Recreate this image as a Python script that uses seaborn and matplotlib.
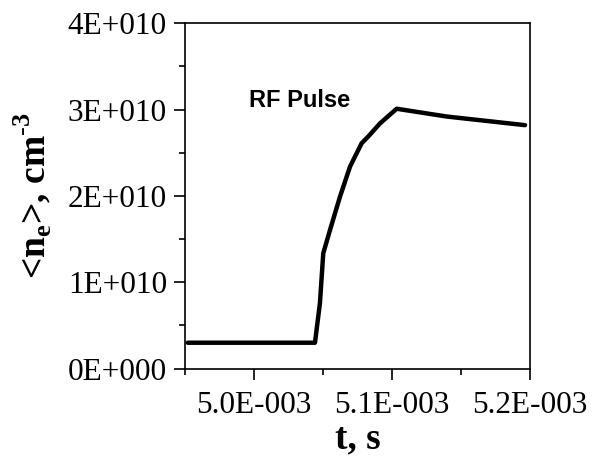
import matplotlib
matplotlib.use("Agg")
import matplotlib.pyplot as plt
from matplotlib.ticker import FixedLocator
import pandas as pd
import seaborn as sns

# Time (s) and mean electron density (cm^-3) during the RF pulse
t_s = [4.952e-3, 5.0442e-3, 5.0478e-3, 5.0502e-3, 5.0551e-3, 5.0623e-3,
       5.0696e-3, 5.0780e-3, 5.0829e-3, 5.0913e-3, 5.1034e-3, 5.1396e-3,
       5.1964e-3]
ne_cm3 = [3.0e9, 3.0e9, 7.6e9, 1.336e10, 1.606e10, 1.99e10,
          2.34e10, 2.61e10, 2.69e10, 2.84e10, 3.01e10, 2.92e10,
          2.82e10]

x_ticks = [5.0e-3, 5.1e-3, 5.2e-3]
x_tick_labels = ["5.0E-003", "5.1E-003", "5.2E-003"]
y_ticks = [0, 1e10, 2e10, 3e10, 4e10]
y_tick_labels = ["0E+000", "1E+010", "2E+010", "3E+010", "4E+010"]

df = pd.DataFrame({"t": t_s, "ne": ne_cm3})

sns.set_style("ticks")
plt.rcParams["font.family"] = ["Liberation Serif", "DejaVu Serif"]
plt.rcParams["mathtext.fontset"] = "custom"
plt.rcParams["mathtext.rm"] = "Liberation Serif"
plt.rcParams["mathtext.bf"] = "Liberation Serif:bold"
plt.rcParams["text.color"] = "black"
plt.rcParams["axes.labelcolor"] = "black"
plt.rcParams["xtick.color"] = "black"
plt.rcParams["ytick.color"] = "black"

fig = plt.figure(figsize=(5.99, 4.61), dpi=100)
ax = fig.add_axes([0.3088, 0.2004, 0.576, 0.7491])

sns.lineplot(data=df, x="t", y="ne", ax=ax, color="black", linewidth=3.2,
             sort=False, estimator=None)

ax.set_xlim(4.95e-3, 5.2e-3)
ax.set_ylim(0, 4e10)

ax.xaxis.set_major_locator(FixedLocator(x_ticks))
ax.xaxis.set_minor_locator(FixedLocator([4.95e-3, 5.05e-3, 5.15e-3]))
ax.set_xticklabels(x_tick_labels)
ax.yaxis.set_major_locator(FixedLocator(y_ticks))
ax.yaxis.set_minor_locator(FixedLocator([0.5e10, 1.5e10, 2.5e10, 3.5e10]))
ax.set_yticklabels(y_tick_labels)

ax.tick_params(which="major", direction="out", length=8, width=1.2,
               labelsize=22.5, pad=5, colors="black")
ax.tick_params(which="minor", direction="out", length=4, width=1.2)
ax.tick_params(axis="x", which="major", pad=8)

for side in ["top", "right", "bottom", "left"]:
    ax.spines[side].set_visible(True)
    ax.spines[side].set_linewidth(1.2)
    ax.spines[side].set_color("black")

ax.set_xlabel("t, s", fontsize=27, fontweight="bold", labelpad=1)
ax.set_ylabel(r"<n$_\mathbf{e}$>, cm$^{\mathbf{\text{-}3}}$", fontsize=27,
              fontweight="bold", labelpad=10)

ax.text(0.187, 0.775, "RF Pulse", transform=ax.transAxes, fontsize=17,
        fontweight="bold", family=["Liberation Sans", "DejaVu Sans"],
        va="center", ha="left", color="black")

fig.savefig("out.png", dpi=100)
